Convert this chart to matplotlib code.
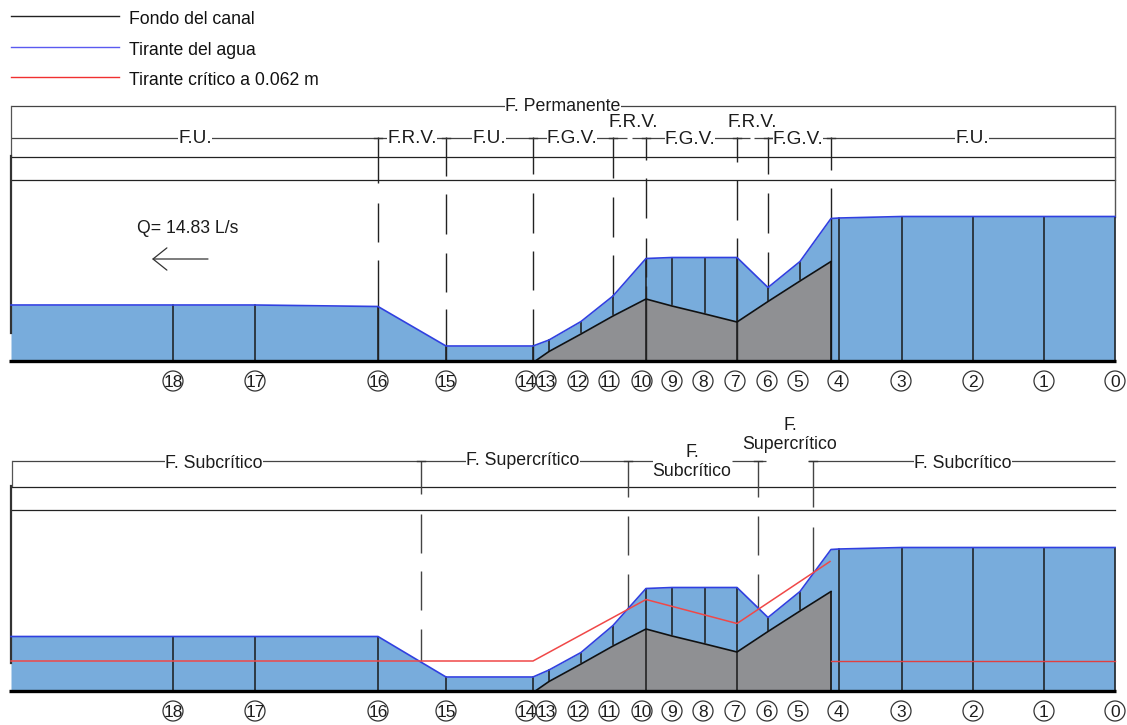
import numpy as np
import matplotlib
matplotlib.use("Agg")
import matplotlib.pyplot as plt
from matplotlib.patches import Circle

plt.rcParams['font.family'] = ['Liberation Sans', 'DejaVu Sans']

# ---- data (x: position along the channel, y: height above the floor, px units)
station_names = ['18','17','16','15','14','13','12','11','10','9','8','7','6','5','4','3','2','1','0']
station_x     = [173,255,378,446,533,549,581,613,646,672,705,737,768,800,839,902,973,1044,1115]
label_x       = [173,255,378,446,526,546,578,609,642,672,703,735,767,798,838,901,973,1044,1115]

water_x = [11,173,255,378,446,533,549,581,613,646,672,705,737,768,800,831,839,902,973,1044,1115]
water_top = [55.5,55.5,55.5,54,14.5,14.5,20.5,39,64.5,102,103,103,103,73,99,142,142.5,144,144,144,144]
water_bot = [54,54,54,54,13.5,13.5,20.5,38,65,102,103,103,103,73,99,141,141.5,143,143,143,143]

bed_x = [536,549,581,613,646,672,705,737,768,800,831]
bed_y = [0,9,26.5,44.5,61.5,54.5,46.5,38.5,59,79.5,99]

crit_x = [11,533,646,737,830]
crit_y = [29.5,29.5,91,67,129]
crit_base_x = [831,1115]
crit_base_y = [29.5,29.5]

legend_labels = ['Fondo del canal','Tirante del agua','Tirante crítico a 0.062 m']
legend_colors = ['#222222','#5a5af0','#f03030']
legend_rows = [16,47,77]

# regime annotations of the upper profile
top_labels = ['F.U.','F.R.V.','F.U.','F.G.V.','F.R.V.','F.G.V.','F.R.V.','F.G.V.','F.U.']
top_label_x = [195,412,489,572,633,690,752,798,972]
top_label_y = [138,138,138,138,122,139,122,139,138]
# regime annotations of the lower profile
bot_labels = ['F. Subcrítico','F. Supercrítico','F.\nSubcrítico','F.\nSupercrítico','F. Subcrítico']
bot_label_x = [214,523,692,790,963]
bot_label_y = [463,460,462,435,463]

# dashed section marks: x, list of (top, bottom) pieces
top_dashes = {378:[(137,183),(203,242),(260,361)],
              446:[(137,176),(194,234),(253,292),(309,361)],
              533:[(137,174),(193,233),(251,290),(309,361)],
              613:[(137,178),(197,237),(255,295)],
              646:[(137,160),(178,218),(238,277),(286,361)],
              737:[(137,162),(180,220),(238,361)],
              768:[(137,174),(193,233),(252,288)],
              831:[(137,170),(188,361)]}
bot_dashes = {421:[(461,494),(514,553),(571,610),(629,661)],
              628:[(461,497),(516,555),(574,609)],
              758:[(461,497),(516,555),(574,609)],
              813:[(461,507),(527,573)]}

FLOOR_TOP, FLOOR_BOT = 360.5, 690.5
BLUE, GRAY = '#78acdc', '#8f9093'
INK = '#1c1c1c'

fig = plt.figure(figsize=(11.27,7.25), dpi=100)
ax = fig.add_axes([0,0,1,1])
ax.set_xlim(0,1127); ax.set_ylim(725,0); ax.axis('off')

def profile(floor, water, critical):
    wx, wy = np.array(water_x,float), floor-np.array(water,float)
    bx, by = np.array(bed_x,float), floor-np.array(bed_y,float)
    ax.fill_between(wx, wy, floor, color=BLUE, lw=0, zorder=1)
    ax.fill_between(bx, by, floor, color=GRAY, lw=0, zorder=2)
    ax.plot(wx, wy, color='#3040e0', lw=1.2, zorder=5)
    ax.plot(bx, by, color='#111111', lw=1.2, zorder=4)
    ax.plot([831,831],[by[-1],floor], color='#111111', lw=1.2, zorder=4)
    for sx in station_x:
        top = np.interp(sx, wx, wy)
        ax.plot([sx,sx],[top,floor], color='#1a1a1a', lw=1.1, zorder=3)
    # the sections over the sill start at the bed, not at the floor
    for sx in [549,581,613,672,705,768,800]:
        ax.plot([sx,sx],[np.interp(sx,bx,by),floor], color=GRAY, lw=1.6, zorder=3.5)
    ax.plot([9,1116],[floor+0.7,floor+0.7], color='black', lw=2.4, zorder=6, solid_capstyle='butt')
    if critical:
        ax.plot(crit_x, floor-np.array(crit_y), color='#f04848', lw=1.1, zorder=7)
        ax.plot(crit_base_x, floor-np.array(crit_base_y), color='#e04040', lw=1.0, zorder=7)
    for name, lx in zip(station_names, label_x):
        ly = floor+20.5
        ax.add_patch(Circle((lx,ly),10,fill=False,ec='#333333',lw=0.9,zorder=8))
        ax.text(lx,ly,name,ha='center',va='center_baseline',fontsize=12.5,color=INK,zorder=9)

def dashes(table, tick_y, colour):
    for x, pieces in table.items():
        for a,b in pieces:
            ax.plot([x,x],[a,b],color=colour,lw=1.0,zorder=3.2,solid_capstyle='butt')
        ax.plot([x-4,x+4],[tick_y,tick_y],color='#333333',lw=1.0,zorder=3.2)

profile(FLOOR_TOP, water_top, False)
profile(FLOOR_BOT, water_bot, True)
dashes(top_dashes,137.5,'#222222')
dashes(bot_dashes,461,'#444444')

line_kw = dict(color='#444444', lw=0.9, zorder=2, solid_capstyle='butt')
# upper header
ax.plot([11,1115],[106,106],**line_kw)
for a,b in [(11,627),(632,750),(754,1115)]:
    ax.plot([a,b],[137.5,137.5],**line_kw)
for y in [156.5,180]:
    ax.plot([11,1115],[y,y],color='#222222',lw=0.9,zorder=2)
ax.plot([11,11],[106,156],color='#555555',lw=0.9)
ax.plot([10.5,10.5],[156,333],color='#333333',lw=1.6)
ax.plot([1115,1115],[106,217],color='#555555',lw=1.0)
# lower header
for a,b in [(12,655),(732,766),(808,1115)]:
    ax.plot([a,b],[461,461],**line_kw)
for y in [486.7,510]:
    ax.plot([11,1115],[y,y],color='#222222',lw=0.9,zorder=2)
ax.plot([12,12],[461,486],color='#555555',lw=0.9)
ax.plot([10.5,10.5],[486,663],color='#333333',lw=1.6)

white = dict(facecolor='white',edgecolor='none',pad=0.0)
ax.text(563,106,'F. Permanente',ha='center',va='center',fontsize=12.8,color=INK,bbox=white,zorder=10)
for t,x,y in zip(top_labels,top_label_x,top_label_y):
    ax.text(x,y,t,ha='center',va='center',fontsize=13.6,color=INK,bbox=white,zorder=10)
for t,x,y in zip(bot_labels,bot_label_x,bot_label_y):
    ax.text(x,y,t,ha='center',va='center',fontsize=12.8,color=INK,bbox=white,zorder=10,linespacing=1.15)

ax.text(137,228,'Q= 14.83 L/s',ha='left',va='center',fontsize=12.7,color=INK)
ax.annotate('',xy=(152,259),xytext=(208,259),
            arrowprops=dict(arrowstyle='->,head_length=1.0,head_width=0.8',color='#333333',lw=0.9,shrinkA=0,shrinkB=0))

for lab,col,y in zip(legend_labels,legend_colors,legend_rows):
    ax.plot([11,119],[y,y],color=col,lw=1.0)
    ax.text(129,y+3,lab,ha='left',va='center',fontsize=12.7,color='#111111')

fig.savefig('out.png',dpi=100)
